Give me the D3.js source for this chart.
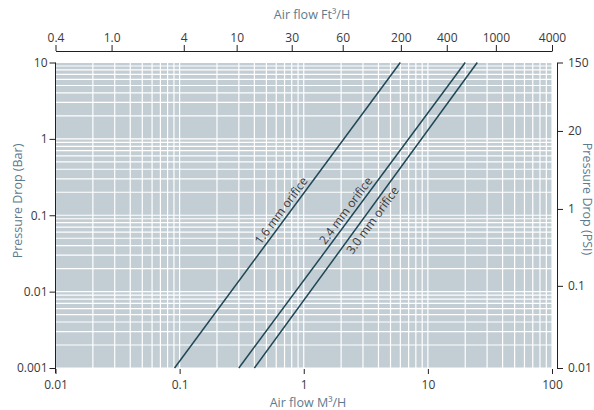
<!DOCTYPE html>
<html>
<head>
<meta charset="utf-8">
<script src="https://cdn.jsdelivr.net/npm/d3@7"></script>
<style>
  body { margin: 0; background: #fff; }
  svg text { font-family: "Open Sans", sans-serif; }
</style>
</head>
<body>
<div id="chart"></div>
<script>
// bottom / left scales (metric)
var flowTicks = [0.01, 0.1, 1, 10, 100];
var barTicks = [0.001, 0.01, 0.1, 1, 10];

// top axis: Ft3/H labels and the M3/H value each one sits over
var ftTicks = [0.4, 1, 4, 10, 30, 60, 200, 400, 1000, 4000];
var ftTickLabels = ["0.4", "1.0", "4", "10", "30", "60", "200", "400", "1000", "4000"];
var ftTickAtM3 = [0.01, 0.0283, 0.108, 0.288, 0.80, 2.06, 6.06, 14.2, 35.3, 100];

// right axis: PSI labels and the bar value each one sits over
var psiTicks = [150, 20, 1, 0.1, 0.01];
var psiTickLabels = ["150", "20", "1", "0.1", "0.01"];
var psiTickAtBar = [10, 1.27, 0.121, 0.0119, 0.001];

// orifice curves: flow (M3/H) at 0.001 bar and at 10 bar
var orifices = ["1.6 mm orifice", "2.4 mm orifice", "3.0 mm orifice"];
var flowAtLow = [0.091, 0.30, 0.40];
var flowAtHigh = [6.0, 20, 25];
var pressureLow = 0.001, pressureHigh = 10;

var W = 594, H = 410;
var pLeft = 55.5, pRight = 552, pTop = 62.5, pBottom = 368;

var svg = d3.select("#chart").append("svg")
    .attr("width", W)
    .attr("height", H);

var x = d3.scaleLog().domain([0.01, 100]).range([pLeft, pRight]);
var y = d3.scaleLog().domain([0.001, 10]).range([pBottom, pTop]);

// plot background
svg.append("rect")
    .attr("x", pLeft)
    .attr("y", pTop)
    .attr("width", pRight - pLeft)
    .attr("height", pBottom - pTop)
    .style("fill", "#c3cdd4");

// log grid
function minors(lo, hi) {
    var out = [];
    for (var e = Math.log10(lo); e < Math.log10(hi) - 0.01; e++) {
        var d = Math.pow(10, e);
        for (var k = 1; k <= 9; k++) out.push(d * k);
    }
    out.push(hi);
    return out;
}

var grid = svg.append("g").attr("class", "grid");
grid.selectAll(".vgrid")
    .data(minors(0.01, 100))
    .enter().append("line")
    .attr("x1", function(d) { return x(d); })
    .attr("x2", function(d) { return x(d); })
    .attr("y1", pTop)
    .attr("y2", pBottom)
    .style("stroke", "#fff")
    .style("stroke-width", 1.2);

grid.selectAll(".hgrid")
    .data(minors(0.001, 10))
    .enter().append("line")
    .attr("y1", function(d) { return y(d); })
    .attr("y2", function(d) { return y(d); })
    .attr("x1", pLeft)
    .attr("x2", pRight)
    .style("stroke", "#fff")
    .style("stroke-width", 1.2);

// orifice lines
var lineData = orifices.map(function(name, i) {
    return {name: name, pts: [[flowAtLow[i], pressureLow], [flowAtHigh[i], pressureHigh]]};
});

var line = d3.line()
    .x(function(d) { return x(d[0]); })
    .y(function(d) { return y(d[1]); });

svg.selectAll(".orifice")
    .data(lineData)
    .enter().append("path")
    .attr("class", "orifice")
    .attr("d", function(d) { return line(d.pts); })
    .style("fill", "none")
    .style("stroke", "#1e4756")
    .style("stroke-width", 1.5);

// labels along the lines, centred near 0.1 bar
svg.selectAll(".orifice-label")
    .data(lineData)
    .enter().append("text")
    .attr("class", "orifice-label")
    .attr("transform", function(d) {
        var p0 = d.pts[0], p1 = d.pts[1];
        var t = (Math.log(0.1) - Math.log(p0[1])) / (Math.log(p1[1]) - Math.log(p0[1]));
        var f = p0[0] * Math.pow(p1[0] / p0[0], t);
        var ang = Math.atan2(y(p1[1]) - y(p0[1]), x(p1[0]) - x(p0[0])) * 180 / Math.PI;
        return "translate(" + x(f) + "," + y(0.1) + ") rotate(" + ang + ")";
    })
    .attr("dy", function(d, i) { return i === 2 ? "1.05em" : "-0.3em"; })
    .style("text-anchor", "middle")
    .style("font-size", "12px")
    .style("fill", "#3a3a3a")
    .text(function(d) { return d.name; });

function styleAxis(g) {
    g.selectAll("path, line").style("stroke", "#231f20").style("stroke-width", 1);
    g.selectAll("text").style("font-size", "12px").style("fill", "#3a3a3a")
        .style("font-family", "'Open Sans', sans-serif");
}

// left axis (bar)
var leftAxis = svg.append("g")
    .attr("transform", "translate(" + pLeft + ",0)")
    .call(d3.axisLeft(y).tickValues(barTicks).tickSize(6).tickSizeOuter(0).tickPadding(2)
        .tickFormat(function(d) { return String(d); }));
leftAxis.select(".domain").attr("d", "M0," + pTop + "V" + (pBottom + 5));
styleAxis(leftAxis);

// bottom axis (M3/H), ticks only
var bottomAxis = svg.append("g")
    .attr("transform", "translate(0," + (pBottom + 1) + ")")
    .call(d3.axisBottom(x).tickValues(flowTicks).tickSize(5).tickPadding(6)
        .tickFormat(function(d) { return String(d); }));
bottomAxis.select(".domain").remove();
styleAxis(bottomAxis);

// top axis (Ft3/H)
var xTop = d3.scaleLog().domain(ftTicks).range(ftTickAtM3.map(function(v) { return x(v); }));
var topAxis = svg.append("g")
    .attr("transform", "translate(0,51)")
    .call(d3.axisTop(xTop).tickValues(ftTicks).tickSize(6).tickSizeOuter(0).tickPadding(3)
        .tickFormat(function(d, i) { return ftTickLabels[i]; }));
styleAxis(topAxis);

// right axis (PSI)
var yRight = d3.scaleLog().domain(psiTicks).range(psiTickAtBar.map(function(v) { return y(v); }));
var rightAxis = svg.append("g")
    .attr("transform", "translate(557,0)")
    .call(d3.axisRight(yRight).tickValues(psiTicks).tickSize(6).tickSizeOuter(0).tickPadding(5)
        .tickFormat(function(d, i) { return psiTickLabels[i]; }));
styleAxis(rightAxis);

// titles
var titleColor = "#5d7b8e";
svg.append("text")
    .attr("x", 308).attr("y", 406.5)
    .style("text-anchor", "middle").style("font-size", "12.5px").style("fill", titleColor)
    .text("Air flow M\u00b3/H");

svg.append("text")
    .attr("x", 312).attr("y", 18.5)
    .style("text-anchor", "middle").style("font-size", "12.5px").style("fill", titleColor)
    .text("Air flow Ft\u00b3/H");

svg.append("text")
    .attr("transform", "translate(22,201) rotate(-90)")
    .style("text-anchor", "middle").style("font-size", "12.5px").style("fill", titleColor)
    .text("Pressure Drop (Bar)");

svg.append("text")
    .attr("transform", "translate(582.5,199) rotate(90)")
    .style("text-anchor", "middle").style("font-size", "12.5px").style("fill", titleColor)
    .text("Pressure Drop (PSI)");
</script>
</body>
</html>
